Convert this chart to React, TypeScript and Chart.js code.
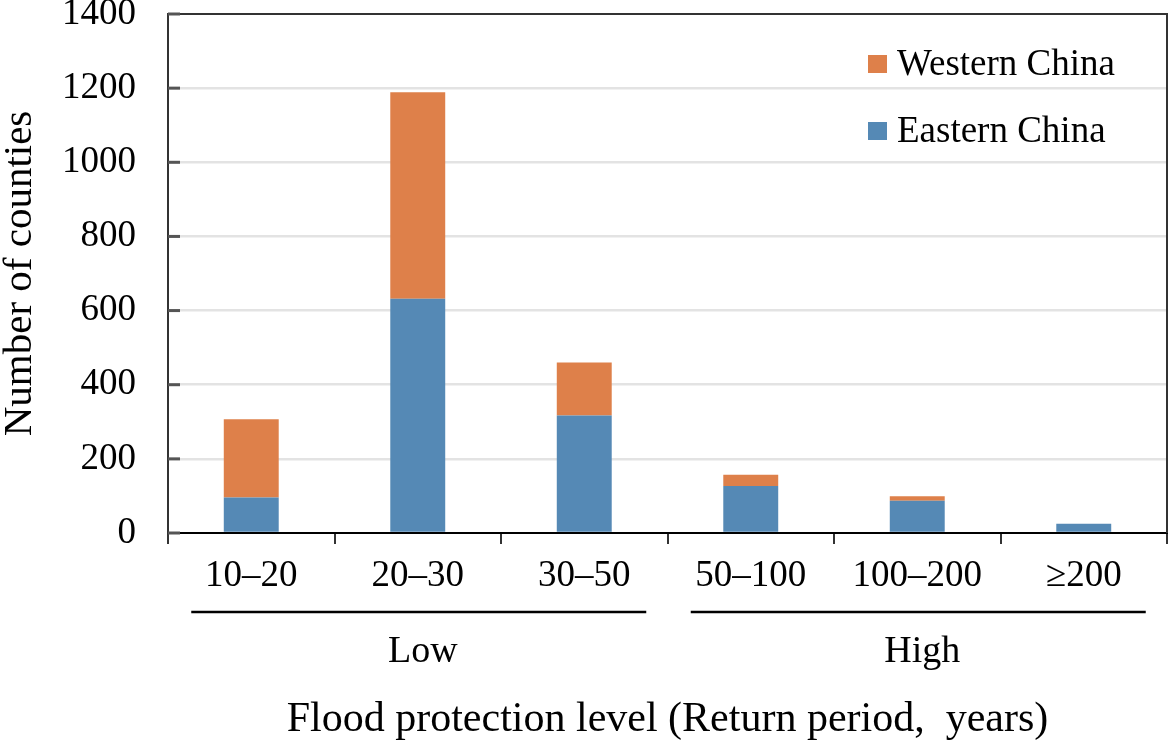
import React, { useEffect, useRef } from "react";
import { Chart, registerables } from "chart.js";

Chart.register(...registerables);

const categories = ["10–20", "20–30", "30–50", "50–100", "100–200", "≥200"];
const easternChina = [96, 632, 317, 127, 87, 25];
const westernChina = [211, 557, 143, 30, 12, 0];
const yTicks = [0, 200, 400, 600, 800, 1000, 1200, 1400];
const groupLabels = ["Low", "High"];
const groupStart = [0, 3];
const groupEnd = [2, 5];

const FONT = "'Liberation Serif', 'Times New Roman', serif";
const BLUE = "#5589b5";
const ORANGE = "#de804a";

const decorPlugin = {
  id: "decor",
  afterDraw(chart: any) {
    const { ctx, chartArea, scales } = chart;
    const x = scales.x;
    const y = scales.y;
    ctx.save();
    // top and right frame
    ctx.strokeStyle = "#333";
    ctx.lineWidth = 2;
    ctx.beginPath();
    ctx.moveTo(chartArea.left, chartArea.top);
    ctx.lineTo(chartArea.right, chartArea.top);
    ctx.lineTo(chartArea.right, chartArea.bottom);
    ctx.stroke();
    // inner y tick marks
    ctx.strokeStyle = "#555";
    ctx.lineWidth = 3;
    yTicks.forEach((v) => {
      const py = y.getPixelForValue(v);
      ctx.beginPath();
      ctx.moveTo(chartArea.left, py);
      ctx.lineTo(chartArea.left + 12, py);
      ctx.stroke();
    });
    // group lines and labels
    ctx.fillStyle = "#000";
    ctx.strokeStyle = "#000";
    ctx.lineWidth = 2.5;
    ctx.font = `38px ${FONT}`;
    ctx.textAlign = "center";
    ctx.textBaseline = "middle";
    groupLabels.forEach((lab, i) => {
      const x0 = x.getPixelForValue(groupStart[i]) - 60;
      const x1 = x.getPixelForValue(groupEnd[i]) + 62;
      ctx.beginPath();
      ctx.moveTo(x0, 612);
      ctx.lineTo(x1, 612);
      ctx.stroke();
      const cx = (x.getPixelForValue(groupStart[i]) + x.getPixelForValue(groupEnd[i])) / 2;
      ctx.fillText(lab, cx + 5, 652);
    });
    // legend (reversed order)
    const ds = chart.data.datasets;
    const items = [ds[1], ds[0]];
    ctx.textAlign = "left";
    ctx.font = `37px ${FONT}`;
    items.forEach((d: any, i: number) => {
      const cy = 64 + i * 67;
      ctx.fillStyle = d.backgroundColor;
      ctx.fillRect(868, cy - 9, 19, 18);
      ctx.fillStyle = "#000";
      ctx.fillText(d.label, 897, cy + 1);
    });
    ctx.restore();
  },
};

export default function App() {
  const ref = useRef<HTMLCanvasElement>(null);
  useEffect(() => {
    document.body.style.margin = "0";
    const chart = new Chart(ref.current!, {
      type: "bar",
      data: {
        labels: categories,
        datasets: [
          {
            label: "Eastern China",
            data: easternChina,
            backgroundColor: BLUE,
            barPercentage: 1,
            categoryPercentage: 0.33,
          },
          {
            label: "Western China",
            data: westernChina,
            backgroundColor: ORANGE,
            barPercentage: 1,
            categoryPercentage: 0.33,
          },
        ],
      },
      options: {
        responsive: false,
        animation: false,
        layout: { padding: { top: 14, right: 2, left: 0, bottom: 0 } },
        plugins: {
          legend: { display: false },
          tooltip: { enabled: false },
        },
        scales: {
          x: {
            stacked: true,
            grid: {
              drawOnChartArea: false,
              drawTicks: true,
              tickLength: 11,
              color: "#333",
              lineWidth: 2,
            },
            border: { display: true, color: "#000", width: 2 },
            ticks: {
              color: "#000",
              font: { family: FONT, size: 37, lineHeight: 1 },
              padding: 14,
              maxRotation: 0,
              autoSkip: false,
            },
            title: {
              display: true,
              text: "Flood protection level (Return period,  years)",
              color: "#000",
              font: { family: FONT, size: 42, lineHeight: 1 },
              padding: { top: 0, bottom: 5 },
            },
            afterFit: (s: any) => {
              s.height = 213;
            },
          },
          y: {
            stacked: true,
            min: 0,
            max: 1400,
            ticks: {
              stepSize: 200,
              color: "#000",
              font: { family: FONT, size: 37, lineHeight: 0.7 },
              padding: 0,
              callback: (v: any) => String(v),
            },
            grid: {
              drawTicks: true,
              tickLength: 32,
              tickColor: "rgba(0,0,0,0)",
              color: (c: any) => (c.tick.value === 0 || c.tick.value === 1400 ? "rgba(0,0,0,0)" : "#e3e3e3"),
              lineWidth: 2.5,
            },
            border: { display: true, color: "#333", width: 2 },
            title: {
              display: true,
              text: "Number of counties",
              color: "#000",
              font: { family: FONT, size: 41, lineHeight: 1 },
              padding: { top: 0, bottom: 0 },
            },
            afterFit: (s: any) => {
              s.width = 168;
            },
          },
        },
      },
      plugins: [decorPlugin],
    });
    return () => chart.destroy();
  }, []);
  return (
    <div style={{ width: 1169, height: 746 }}>
      <canvas ref={ref} width={1169} height={746} />
    </div>
  );
}
